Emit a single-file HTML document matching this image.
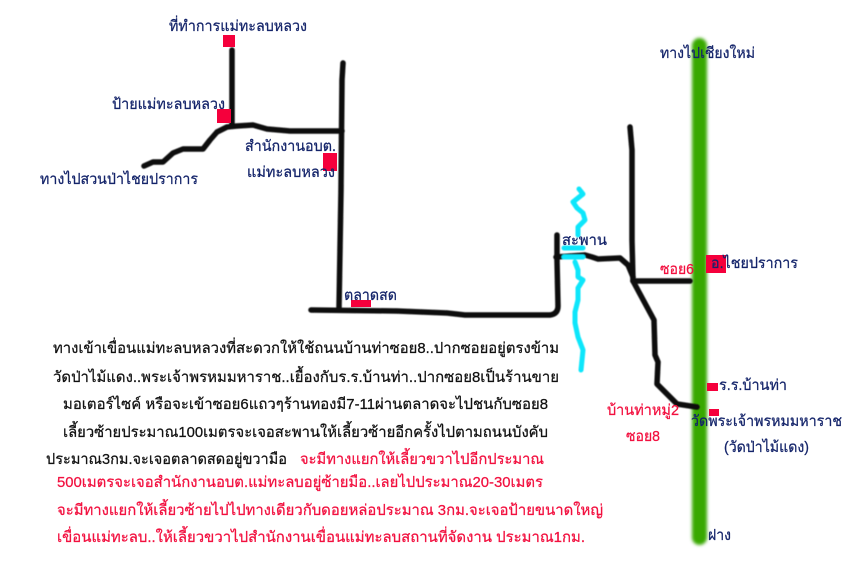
<!DOCTYPE html>
<html><head><meta charset="utf-8"><style>
html,body{margin:0;padding:0;background:#fff;width:842px;height:562px;overflow:hidden}
svg{display:block}
text{font-family:"Liberation Sans",sans-serif;font-size:15px;stroke-width:.25px}
.n{fill:#14246a;stroke:#14246a}.k{fill:#111;stroke:#111}.r{fill:#f2103f;stroke:#f2103f}
.road{fill:none;stroke:#0c0c0c;stroke-width:5.5;stroke-linecap:round;stroke-linejoin:round}
.riv{fill:none;stroke:#0be6fb;stroke-width:5;stroke-linecap:round;stroke-linejoin:round}
</style></head><body>
<svg width="842" height="562" viewBox="0 0 842 562" xmlns="http://www.w3.org/2000/svg">
<defs><filter id="b" filterUnits="userSpaceOnUse" x="670" y="20" width="60" height="540"><feGaussianBlur stdDeviation="1.6"/></filter>
<filter id="s" filterUnits="userSpaceOnUse" x="0" y="0" width="842" height="562"><feGaussianBlur stdDeviation="0.5"/></filter></defs>
<rect x="692" y="38" width="15" height="507" rx="7.5" fill="#38a806" filter="url(#b)"/>
<g filter="url(#s)">
<path class="road" d="M232 50V125"/>
<path class="road" d="M144 166L153 162L163 162L173 153L183 149L203 149L210 140L217 132L227 127L237 126L253 125L267 129L290 131L342 131"/>
<path class="road" d="M343 63L342 80L341 190L339 308"/>
<path class="road" d="M311 310L397 311L447 313L465 315L550 315Q558 314 558 306L557 260L557 235"/>
<path class="road" d="M556 257L585 255L592 257L598 259L620 258L628 265L633 277"/>
<path class="road" d="M630 127L632 150L632 240L633 281"/>
<path class="road" d="M633 281H690"/>
<path class="road" d="M633 281L654 320L655 355L658 362L657 384L677 404L697 407"/>
<path class="riv" d="M579 189L583 194L573 202L577 208L583 213L585 220L578 227L578 235"/>
<path class="riv" d="M564 248H583M564 257H583"/>
<path class="riv" d="M575 262L578 270L578 277L583 280L578 288L578 300L575 312L575 323L578 337L583 350L581 370"/>
</g>
<g fill="#f5003c">
<rect x="223" y="35" width="12" height="12"/>
<rect x="217" y="109" width="14" height="14"/>
<rect x="323" y="153" width="14" height="18"/>
<rect x="351" y="300" width="20" height="7"/>
<rect x="706" y="255" width="20" height="18"/>
<rect x="707" y="383" width="11" height="8"/>
<rect x="709" y="409" width="10" height="7"/>
</g>
<text class="n" x="169" y="31" textLength="138" lengthAdjust="spacingAndGlyphs">ที่ทำการแม่ทะลบหลวง</text>
<text class="n" x="112" y="109" textLength="113" lengthAdjust="spacingAndGlyphs">ป้ายแม่ทะลบหลวง</text>
<text class="n" x="40" y="184" textLength="158" lengthAdjust="spacingAndGlyphs">ทางไปสวนป่าไชยปราการ</text>
<text class="n" x="245" y="151" textLength="91" lengthAdjust="spacingAndGlyphs">สำนักงานอบต.</text>
<text class="n" x="247" y="177" textLength="88" lengthAdjust="spacingAndGlyphs">แม่ทะลบหลวง</text>
<text class="n" x="344" y="300" textLength="53" lengthAdjust="spacingAndGlyphs">ตลาดสด</text>
<text class="n" x="562" y="245" textLength="45" lengthAdjust="spacingAndGlyphs">สะพาน</text>
<text class="n" x="660" y="58" textLength="95" lengthAdjust="spacingAndGlyphs">ทางไปเชียงใหม่</text>
<text class="n" x="711" y="268" textLength="87" lengthAdjust="spacingAndGlyphs">อ.ไชยปราการ</text>
<text class="n" x="719" y="390" textLength="68" lengthAdjust="spacingAndGlyphs">ร.ร.บ้านท่า</text>
<text class="n" x="691" y="426" textLength="151" lengthAdjust="spacingAndGlyphs">วัดพระเจ้าพรหมมหาราช</text>
<text class="n" x="724" y="452" textLength="85" lengthAdjust="spacingAndGlyphs">(วัดป่าไม้แดง)</text>
<text class="n" x="708" y="540" textLength="23" lengthAdjust="spacingAndGlyphs">ฝาง</text>
<text class="r" x="660" y="274" textLength="34" lengthAdjust="spacingAndGlyphs">ซอย6</text>
<text class="r" x="607" y="415" textLength="72" lengthAdjust="spacingAndGlyphs">บ้านท่าหมู่2</text>
<text class="r" x="626" y="441" textLength="34" lengthAdjust="spacingAndGlyphs">ซอย8</text>
<text class="k" x="53" y="353" textLength="506" lengthAdjust="spacingAndGlyphs">ทางเข้าเขื่อนแม่ทะลบหลวงที่สะดวกให้ใช้ถนนบ้านท่าซอย8..ปากซอยอยู่ตรงข้าม</text>
<text class="k" x="53" y="382" textLength="506" lengthAdjust="spacingAndGlyphs">วัดป่าไม้แดง..พระเจ้าพรหมมหาราช..เยื้องกับร.ร.บ้านท่า..ปากซอย8เป็นร้านขาย</text>
<text class="k" x="63" y="409" textLength="485" lengthAdjust="spacingAndGlyphs">มอเตอร์ไซค์  หรือจะเข้าซอย6แถวๆร้านทองมี7-11ผ่านตลาดจะไปชนกับซอย8</text>
<text class="k" x="63" y="437" textLength="485" lengthAdjust="spacingAndGlyphs">เลี้ยวซ้ายประมาณ100เมตรจะเจอสะพานให้เลี้ยวซ้ายอีกครั้งไปตามถนนบังคับ</text>
<text class="k" x="46" y="464" textLength="241" lengthAdjust="spacingAndGlyphs">ประมาณ3กม.จะเจอตลาดสดอยู่ขวามือ</text>
<text class="r" x="300" y="464" textLength="244" lengthAdjust="spacingAndGlyphs">จะมีทางแยกให้เลี้ยวขวาไปอีกประมาณ</text>
<text class="r" x="57" y="487" textLength="486" lengthAdjust="spacingAndGlyphs">500เมตรจะเจอสำนักงานอบต.แม่ทะลบอยู่ซ้ายมือ..เลยไปประมาณ20-30เมตร</text>
<text class="r" x="57" y="515" textLength="546" lengthAdjust="spacingAndGlyphs">จะมีทางแยกให้เลี้ยวซ้ายไปไปทางเดียวกับดอยหล่อประมาณ 3กม.จะเจอป้ายขนาดใหญ่</text>
<text class="r" x="57" y="542" textLength="528" lengthAdjust="spacingAndGlyphs">เขื่อนแม่ทะลบ..ให้เลี้ยวขวาไปสำนักงานเขื่อนแม่ทะลบสถานที่จัดงาน  ประมาณ1กม.</text>
</svg>
</body></html>
